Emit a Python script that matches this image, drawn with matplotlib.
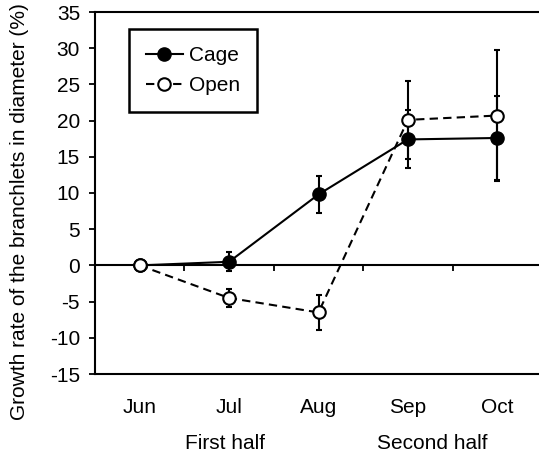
import matplotlib
matplotlib.use("Agg")
from matplotlib import pyplot as plt
import numpy as np

plt.rcParams['font.family'] = ['Liberation Sans', 'DejaVu Sans']
plt.rcParams['axes.unicode_minus'] = False

months = ["Jun", "Jul", "Aug", "Sep", "Oct"]
halves = ["First half", "Second half"]
half_pos = [0.95, 3.27]

cage = [0, 0.5, 9.8, 17.4, 17.6]
cage_err = [0, 1.3, 2.5, 4.0, 5.8]
open_ = [0, -4.5, -6.5, 20.1, 20.7]
open_err = [0, 1.2, 2.4, 5.4, 9.0]

ymin, ymax = -15, 35
x = np.arange(len(months))
fs = 15

fig = plt.figure(figsize=(5.39, 4.54), dpi=100)
ax = fig.add_axes([95 / 539, 80 / 454, 447 / 539, 362 / 454])

ax.errorbar(x, cage, yerr=cage_err, color='black', lw=1.5, marker='o',
            markersize=9.5, markerfacecolor='black', markeredgecolor='black',
            capsize=2.5, elinewidth=1.5, capthick=1.5, label="Cage", zorder=3)
ax.errorbar(x, open_, yerr=open_err, color='black', lw=1.5, ls=(0, (4, 2.5)), marker='o',
            markersize=9, markerfacecolor='white', markeredgecolor='black', markeredgewidth=1.5,
            capsize=2.5, elinewidth=1.5, capthick=1.5, label="Open", zorder=4)

ax.set_xlim(-0.5, len(months) - 0.5)
ax.set_ylim(ymin, ymax)
ax.set_yticks(np.arange(ymin, ymax + 1, 5))
ax.set_xticks(x)
ax.set_xticklabels(months)
ax.tick_params(axis='x', length=0, pad=17.5, labelsize=fs)
ax.tick_params(axis='y', direction='out', length=4.3, width=1.3, pad=6.5, labelsize=fs)
for s in ax.spines.values():
    s.set_linewidth(1.5)

# zero line with ticks between the months
zero = ax.secondary_xaxis((0 - ymin) / (ymax - ymin))
zero.set_xticks(np.append([-0.5], x[:-1] + 0.5))
zero.set_xticklabels([])
zero.tick_params(direction='out', length=4, width=1.3)
zero.spines['bottom'].set_linewidth(1.5)

for pos, lab in zip(half_pos, halves):
    ax.text(pos, -75 / 362, lab, transform=ax.get_xaxis_transform(),
            ha='center', va='baseline', fontsize=fs)

fig.text(20 / 539, 0.535, "Growth rate of the branchlets in diameter (%)",
         rotation=90, ha='center', va='center', fontsize=fs)

handles, labels = ax.get_legend_handles_labels()
leg = ax.legend([h[0] for h in handles], labels, loc='upper left',
                bbox_to_anchor=(129 / 539, 1 - 29 / 454),
                bbox_transform=fig.transFigure, borderaxespad=0, fontsize=fs,
                handlelength=1.75, handletextpad=0.3, borderpad=0.82, labelspacing=0.53,
                fancybox=False, edgecolor='black', framealpha=1)
leg.get_frame().set_linewidth(1.8)

plt.savefig("out.png", dpi=100)
plt.close()
